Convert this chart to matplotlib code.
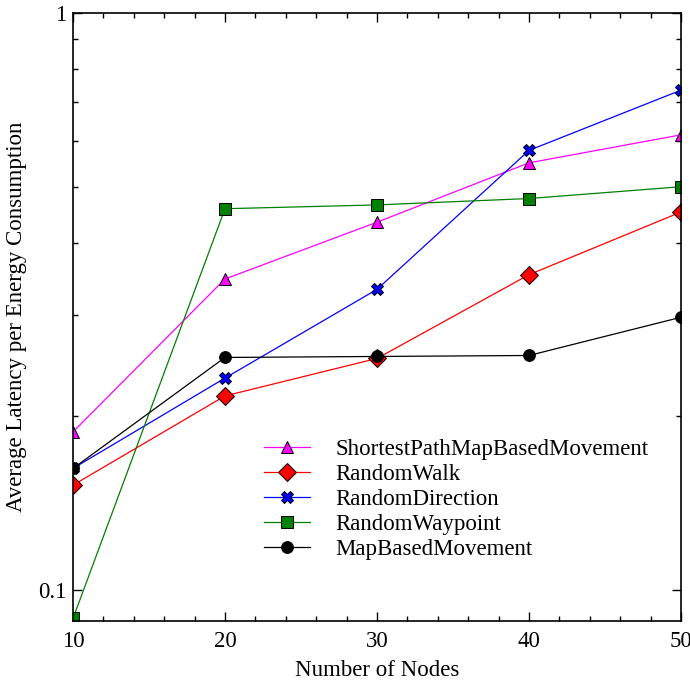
import matplotlib
matplotlib.use("Agg")
import matplotlib.pyplot as plt
from matplotlib.ticker import FixedLocator, NullFormatter, FixedFormatter, MultipleLocator

plt.rcParams['font.family'] = ['Liberation Serif', 'DejaVu Serif']

nodes = [10, 20, 30, 40, 50]
shortest_path = [0.188, 0.346, 0.434, 0.550, 0.615]
random_walk = [0.152, 0.217, 0.252, 0.352, 0.452]
random_direction = [0.1625, 0.233, 0.332, 0.578, 0.735]
random_waypoint = [0.0893, 0.458, 0.465, 0.477, 0.500]
map_based = [0.1625, 0.253, 0.254, 0.255, 0.297]

series = [
    ("ShortestPathMapBasedMovement", shortest_path, "#ff00ff", "^"),
    ("RandomWalk", random_walk, "#ff0000", "D"),
    ("RandomDirection", random_direction, "#0000ff", "X"),
    ("RandomWaypoint", random_waypoint, "#008000", "s"),
    ("MapBasedMovement", map_based, "#000000", "o"),
]

fig = plt.figure(figsize=(6.9, 6.81), dpi=100)
ax = fig.add_axes([73/690, 1-621/681, (681-73)/690, (621-13)/681])

for name, vals, col, mk in series:
    ms = {"^": 9, "D": 9.5, "X": 8.5, "s": 8.5, "o": 8.5}[mk]
    ax.plot(nodes, vals, color=col, lw=0.9, marker=mk, markersize=ms,
            markerfacecolor=col, markeredgecolor="black", markeredgewidth=0.7,
            label=name)

ax.set_yscale('log')
ax.set_xlim(10, 50)
ax.set_ylim(0.0884, 1.0)

ax.xaxis.set_major_locator(FixedLocator(nodes))
ax.xaxis.set_minor_locator(MultipleLocator(2))
ax.yaxis.set_major_locator(FixedLocator([0.1, 1.0]))
ax.yaxis.set_major_formatter(FixedFormatter(["0.1", "1"]))
ax.yaxis.set_minor_locator(FixedLocator([0.2, 0.3, 0.4, 0.5, 0.6, 0.7, 0.8, 0.9]))
ax.yaxis.set_minor_formatter(NullFormatter())

ax.tick_params(which='both', direction='in', top=True, right=True, labelsize=16.5, width=1.0)
ax.tick_params(which='major', length=6.5)
ax.tick_params(which='minor', length=3.6)
ax.tick_params(axis='x', which='major', pad=7.5)
ax.tick_params(axis='y', which='major', pad=5)
for sp in ax.spines.values():
    sp.set_linewidth(1.2)

ax.set_xlabel("Number of Nodes", fontsize=16.5, labelpad=5.5)
ax.set_ylabel("Average Latency per Energy Consumption", fontsize=16.5, labelpad=8)

ax.legend(loc='upper left', bbox_to_anchor=(264/690, 1-439/681),
          bbox_transform=fig.transFigure, frameon=False, fontsize=16.5,
          handlelength=2.0, handletextpad=1.13, labelspacing=0.17,
          borderpad=0, borderaxespad=0)

fig.savefig("out.png", dpi=100)
